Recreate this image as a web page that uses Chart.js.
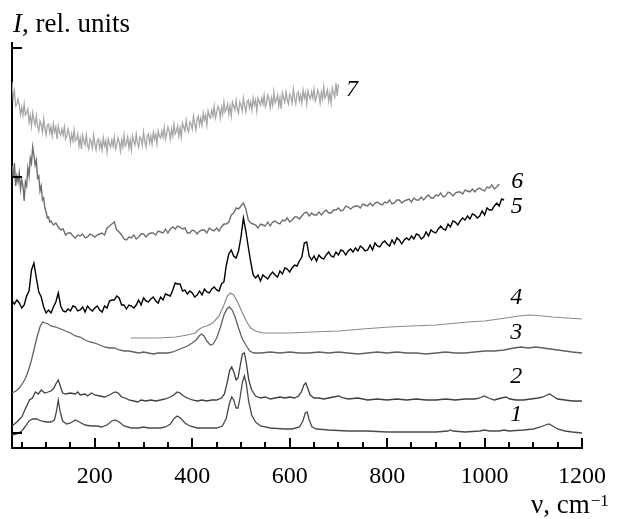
<!DOCTYPE html>
<html>
<head>
<meta charset="utf-8">
<script src="https://cdn.jsdelivr.net/npm/chart.js@4/dist/chart.umd.min.js"></script>
<style>
  html, body { margin: 0; padding: 0; background: #fff; }
  #wrap { width: 620px; height: 519px; }
</style>
</head>
<body>
<div id="wrap"><canvas id="c" width="620" height="519"></canvas></div>
<script>
// ---- data: [wavenumber (cm^-1), intensity (rel. units)] ----
const spectrum1 = [[30,13],[40,14],[50,17],[58,22],[65,27],[72,29],[80,29],[90,27],[100,26],[110,26],[117,28],[121,36],[125,48],[129,36],[134,27],[142,24],[150,25],[160,28],[168,26],[180,23],[193,22],[205,22],[214,21],[225,23],[235,27],[242,28],[250,26],[260,22],[275,20],[290,20],[300,21],[310,20],[322,20],[335,20],[345,21],[355,24],[362,29],[369,32],[376,30],[385,25],[395,22],[410,20],[430,20],[450,20],[462,22],[470,30],[476,44],[481,51],[485,48],[490,40],[494,40],[498,50],[503,66],[507,72],[511,64],[516,46],[522,33],[530,26],[540,22],[560,20],[590,19],[605,19],[620,21],[627,27],[632,35],[636,36],[640,28],[646,21],[655,19],[680,18],[720,17],[760,17],[800,16],[850,16],[900,16],[925,17],[930,18],[935,17],[960,16],[990,17],[1000,18],[1010,17],[1030,17],[1040,18],[1050,17],[1080,18],[1100,19],[1115,21],[1125,23],[1132,24],[1140,22],[1150,19],[1165,17],[1180,16],[1200,15]];

const spectrum2 = [[30,22],[40,26],[50,31],[60,42],[66,48],[72,50],[78,56],[84,54],[90,58],[97,55],[104,56],[110,57],[116,60],[121,65],[125,68],[129,62],[134,55],[140,54],[150,55],[160,54],[165,56],[170,53],[180,54],[185,52],[193,55],[200,53],[210,52],[220,51],[230,53],[237,55],[242,56],[248,55],[255,51],[262,50],[270,48],[280,47],[288,46],[295,48],[305,47],[315,48],[325,47],[335,48],[345,49],[355,51],[362,53],[369,56],[375,55],[382,52],[390,50],[400,48],[410,47],[420,48],[430,47],[440,48],[450,48],[460,50],[466,54],[472,66],[477,78],[481,81],[486,75],[490,68],[494,70],[499,84],[503,94],[507,95],[511,85],[516,68],[522,58],[530,52],[540,50],[550,51],[560,49],[570,50],[580,51],[590,50],[600,51],[610,50],[618,52],[624,56],[629,63],[633,65],[637,60],[642,53],[650,50],[660,50],[670,49],[680,50],[690,51],[700,52],[710,50],[720,49],[740,50],[760,48],[780,49],[800,48],[820,49],[840,48],[860,49],[880,48],[900,48],[920,49],[940,48],[960,49],[980,49],[990,50],[1000,52],[1008,50],[1020,48],[1035,50],[1044,51],[1052,49],[1065,48],[1080,48],[1095,49],[1110,50],[1120,51],[1128,53],[1134,54],[1140,52],[1150,49],[1165,48],[1180,47],[1200,47]];

const spectrum3 = [[30,55],[38,57],[45,60],[52,65],[58,70],[64,78],[70,88],[76,100],[82,112],[88,122],[93,126],[98,125],[104,124],[110,122],[120,121],[130,119],[140,117],[150,115],[160,112],[170,111],[180,108],[190,106],[200,105],[210,103],[220,101],[230,100],[240,100],[250,98],[260,97],[270,97],[280,96],[290,95],[300,96],[310,95],[320,94],[330,95],[340,95],[350,95],[360,96],[370,98],[380,100],[390,102],[400,105],[408,108],[414,112],[419,114],[424,112],[430,107],[437,103],[443,104],[450,110],[458,121],[465,133],[471,139],[476,141],[482,138],[488,131],[495,120],[502,110],[510,103],[518,97],[526,95],[540,95],[560,96],[580,95],[600,96],[620,95],[640,95],[660,96],[680,95],[700,96],[720,95],[740,94],[760,95],[780,96],[800,95],[820,96],[840,95],[860,95],[880,94],[900,95],[920,96],[940,95],[960,95],[980,96],[1000,97],[1020,97],[1040,98],[1060,100],[1075,101],[1090,100],[1105,101],[1120,100],[1135,99],[1150,98],[1165,97],[1180,96],[1200,95]];

const spectrum4 = [[274,110],[300,110],[330,110],[366,111],[390,113],[406,115],[415,119],[422,121],[430,122],[442,125],[455,132],[465,143],[472,152],[478,155],[485,153],[494,145],[503,135],[512,126],[520,120],[530,117],[545,115],[570,115],[600,115],[645,116],[700,117],[750,119],[805,121],[850,122],[900,123],[966,126],[1000,127],[1044,130],[1070,132],[1092,133],[1120,132],[1140,131],[1170,130],[1200,129]];

const spectrum5 = [[30,147],[35,144],[40,148],[45,145],[50,140],[55,143],[60,152],[65,157],[70,178],[75,185],[80,170],[85,156],[90,151],[95,141],[100,135],[105,138],[110,135],[115,141],[120,146],[125,155],[130,142],[135,137],[140,136],[145,139],[150,137],[155,142],[160,141],[165,137],[170,138],[175,141],[180,136],[185,142],[190,139],[195,137],[200,140],[205,142],[210,138],[215,136],[220,142],[225,140],[230,147],[235,148],[240,148],[245,152],[250,150],[255,143],[260,143],[265,139],[270,143],[275,142],[280,140],[285,143],[290,148],[295,143],[300,150],[305,147],[310,146],[315,149],[320,151],[325,147],[330,145],[335,151],[340,148],[345,154],[350,153],[355,152],[360,158],[365,165],[370,164],[375,164],[380,157],[385,158],[390,154],[395,157],[400,155],[405,151],[410,153],[415,157],[420,153],[425,159],[430,156],[435,155],[440,159],[445,161],[450,158],[455,157],[460,164],[465,166],[470,183],[475,194],[480,198],[485,192],[490,190],[495,197],[500,211],[505,230],[510,217],[515,201],[520,186],[525,173],[530,170],[535,173],[540,167],[545,173],[550,171],[555,169],[560,173],[565,176],[570,173],[575,171],[580,177],[585,174],[590,180],[595,179],[600,176],[605,180],[610,183],[615,182],[620,187],[625,191],[630,205],[635,206],[640,192],[645,188],[650,192],[655,187],[660,193],[665,190],[670,189],[675,193],[680,196],[685,192],[690,191],[695,196],[700,193],[705,198],[710,197],[715,193],[720,197],[725,199],[730,196],[735,200],[740,197],[745,202],[750,200],[755,197],[760,198],[765,203],[770,198],[775,205],[780,202],[785,201],[790,205],[795,207],[800,204],[805,202],[810,208],[815,204],[820,210],[825,208],[830,204],[835,208],[840,210],[845,208],[850,212],[855,209],[860,214],[865,213],[870,209],[875,211],[880,216],[885,212],[890,218],[895,216],[900,215],[905,219],[910,222],[915,219],[920,218],[925,224],[930,221],[935,227],[940,226],[945,223],[950,227],[955,230],[960,228],[965,232],[970,229],[975,234],[980,233],[985,230],[990,232],[995,237],[1000,233],[1005,240],[1010,238],[1015,238],[1020,242],[1025,245],[1030,242],[1035,249],[1040,248]];

const spectrum6 = [[30,283],[32.5,270],[35,285],[37.5,262],[40,272],[42.5,266],[45,275],[47.5,259],[50,268],[52.5,262],[55,247],[57.5,266],[60,262],[62.5,280],[65,272],[67.5,290],[70,285],[72.5,301],[75,293],[77.5,283],[80,288],[82.5,270],[85,272],[87.5,257],[90,262],[92.5,248],[95,250],[97.5,240],[100,236],[102.5,230],[105,231],[107.5,226],[110,227],[115,223],[120,225],[125,221],[130,218],[135,219],[140,213],[145,215],[150,215],[155,212],[160,210],[165,213],[170,212],[175,214],[180,210],[185,211],[190,214],[195,213],[200,211],[205,213],[210,214],[215,215],[220,213],[225,220],[230,222],[235,224],[240,226],[245,218],[250,216],[255,213],[260,209],[265,208],[270,211],[275,210],[280,213],[285,209],[290,211],[295,214],[300,214],[305,211],[310,214],[315,215],[320,215],[325,213],[330,217],[335,216],[340,215],[345,219],[350,215],[355,219],[360,221],[365,219],[370,222],[375,221],[380,219],[385,220],[390,215],[395,215],[400,218],[405,217],[410,214],[415,217],[420,218],[425,218],[430,215],[435,220],[440,218],[445,217],[450,220],[455,217],[460,221],[465,224],[470,224],[475,226],[480,233],[485,235],[490,240],[495,239],[500,242],[505,245],[510,239],[515,228],[520,225],[525,224],[530,223],[535,220],[540,224],[545,223],[550,222],[555,226],[560,222],[565,226],[570,227],[575,225],[580,224],[585,228],[590,227],[595,230],[600,226],[605,228],[610,231],[615,231],[620,229],[625,232],[630,235],[635,236],[640,232],[645,235],[650,233],[655,233],[660,236],[665,233],[670,236],[675,238],[680,235],[685,235],[690,238],[695,238],[700,240],[705,237],[710,238],[715,242],[720,241],[725,239],[730,241],[735,242],[740,242],[745,240],[750,244],[755,243],[760,242],[765,245],[770,242],[775,245],[780,246],[785,244],[790,243],[795,246],[800,245],[805,248],[810,244],[815,245],[820,248],[825,248],[830,245],[835,247],[840,248],[845,249],[850,246],[855,250],[860,248],[865,248],[870,251],[875,248],[880,251],[885,253],[890,250],[895,250],[900,253],[905,252],[910,255],[915,251],[920,252],[925,256],[930,255],[935,252],[940,255],[945,256],[950,256],[955,254],[960,258],[965,257],[970,256],[975,259],[980,256],[985,259],[990,260],[995,258],[1000,257],[1005,261],[1010,260],[1015,263],[1020,259],[1025,261],[1030,264]];

const spectrum7 = [[30,366],[32.5,350],[35,357],[37.5,342],[40,344],[42.5,349],[45,343],[47.5,333],[50,341],[52.5,333],[55,344],[57.5,333],[60,335],[62.5,339],[65,326],[67.5,333],[70,322],[72.5,335],[75,328],[77.5,323],[80,332],[82.5,322],[85,317],[87.5,327],[90,323],[92.5,316],[95,329],[97.5,319],[100,313],[102.5,323],[105,324],[107.5,315],[110,321],[112.5,312],[115,324],[117.5,316],[120,321],[122.5,309],[125,322],[127.5,316],[130,313],[132.5,319],[135,313],[137.5,321],[140,309],[142.5,312],[145,319],[147.5,314],[150,305],[152.5,314],[155,307],[157.5,318],[160,307],[162.5,309],[165,314],[167.5,302],[170,310],[172.5,299],[175,313],[177.5,307],[180,303],[182.5,313],[185,303],[187.5,299],[190,309],[192.5,306],[195,300],[197.5,313],[200,304],[202.5,298],[205,307],[207.5,309],[210,300],[212.5,306],[215,298],[217.5,310],[220,302],[222.5,307],[225,296],[227.5,309],[230,304],[232.5,301],[235,308],[237.5,302],[240,311],[242.5,299],[245,303],[247.5,310],[250,306],[252.5,297],[255,308],[257.5,301],[260,313],[262.5,302],[265,305],[267.5,311],[270,300],[272.5,308],[275,298],[277.5,312],[280,307],[282.5,303],[285,314],[287.5,305],[290,301],[292.5,311],[295,309],[297.5,303],[300,316],[302.5,307],[305,301],[307.5,312],[310,314],[312.5,305],[315,312],[317.5,304],[320,316],[322.5,309],[325,314],[327.5,304],[330,317],[332.5,312],[335,310],[337.5,317],[340,311],[342.5,321],[345,309],[347.5,314],[350,321],[352.5,317],[355,309],[357.5,319],[360,312],[362.5,324],[365,314],[367.5,317],[370,322],[372.5,312],[375,320],[377.5,311],[380,325],[382.5,321],[385,317],[387.5,328],[390,319],[392.5,316],[395,326],[397.5,324],[400,319],[402.5,332],[405,324],[407.5,318],[410,329],[412.5,332],[415,323],[417.5,330],[420,323],[422.5,335],[425,328],[427.5,333],[430,323],[432.5,337],[435,332],[437.5,330],[440,338],[442.5,332],[445,342],[447.5,330],[450,335],[452.5,342],[455,339],[457.5,330],[460,341],[462.5,334],[465,346],[467.5,336],[470,339],[472.5,344],[475,334],[477.5,342],[480,332],[482.5,346],[485,342],[487.5,338],[490,348],[492.5,339],[495,335],[497.5,346],[500,343],[502.5,337],[505,350],[507.5,342],[510,336],[512.5,346],[515,348],[517.5,340],[520,346],[522.5,338],[525,350],[527.5,343],[530,348],[532.5,337],[535,350],[537.5,346],[540,343],[542.5,350],[545,344],[547.5,353],[550,341],[552.5,345],[555,353],[557.5,349],[560,340],[562.5,350],[565,343],[567.5,356],[570,345],[572.5,348],[575,353],[577.5,342],[580,350],[582.5,339],[585,355],[587.5,350],[590,346],[592.5,356],[595,348],[597.5,344],[600,354],[602.5,351],[605,345],[607.5,359],[610,350],[612.5,344],[615,354],[617.5,356],[620,347],[622.5,353],[625,345],[627.5,358],[630,350],[632.5,355],[635,344],[637.5,357],[640,352],[642.5,349],[645,356],[647.5,350],[650,359],[652.5,347],[655,351],[657.5,358],[660,354],[662.5,345],[665,356],[667.5,349],[670,361],[672.5,350],[675,353],[677.5,358],[680,347],[682.5,355],[685,345],[687.5,360],[690,355],[692.5,351],[695,365],[697.5,352],[700,364]];

// curve number labels and their positions (wavenumber, intensity)
const curveNames = ['1','2','3','4','5','6','7'];
const curveLabelNu = [1065,1065,1065,1065,1066,1067,728];
const curveLabelInt = [33,71,115,150,241,266,358];

// axis ticks
const xTickValues = [50,100,150,200,250,300,350,400,450,500,550,600,650,700,750,800,850,900,950,1000,1050,1100,1150,1200];
const xLabelValues = [200,400,600,800,1000,1200];
const yTickValues = [15,271,400];

const toPts = arr => arr.map(p => ({x: p[0], y: p[1]}));

const serif = '"Liberation Serif", "Times New Roman", serif';

const decor = {
  id: 'decor',
  afterDraw(chart) {
    const {ctx, chartArea: a, scales: {x, y}} = chart;
    ctx.save();
    ctx.strokeStyle = '#000';
    ctx.lineWidth = 2;
    xTickValues.forEach(v => {
      const px = Math.round(x.getPixelForValue(v));
      const len = xLabelValues.includes(v) ? 10 : 6;
      ctx.beginPath(); ctx.moveTo(px, a.bottom); ctx.lineTo(px, a.bottom - len); ctx.stroke();
    });
    yTickValues.forEach(v => {
      const py = Math.round(y.getPixelForValue(v));
      ctx.beginPath(); ctx.moveTo(a.left, py); ctx.lineTo(a.left + 10, py); ctx.stroke();
    });
    // curve labels
    ctx.fillStyle = '#000';
    ctx.font = 'italic 24px ' + serif;
    ctx.textAlign = 'center';
    ctx.textBaseline = 'middle';
    curveNames.forEach((n, i) => {
      ctx.fillText(n, x.getPixelForValue(curveLabelNu[i]), y.getPixelForValue(curveLabelInt[i]));
    });
    // y axis title
    ctx.textAlign = 'left';
    ctx.textBaseline = 'alphabetic';
    ctx.font = 'italic 27px ' + serif;
    ctx.fillText('I', a.left + 1, 32);
    let w = ctx.measureText('I').width;
    ctx.font = '27px ' + serif;
    ctx.fillText(', rel. units', a.left + 1 + w, 32);
    // x axis title
    ctx.font = '27px ' + serif;
    const t = 'ν, cm';
    ctx.fillText(t, 531, 513);
    w = ctx.measureText(t).width;
    ctx.font = '17px ' + serif;
    ctx.fillText('−1', 531 + w + 1, 506);
    ctx.restore();
  }
};

const mk = (data, color, width) => ({
  data: toPts(data), borderColor: color, borderWidth: width,
  pointRadius: 0, fill: false, tension: 0
});

new Chart(document.getElementById('c'), {
  type: 'line',
  data: {
    datasets: [
      mk(spectrum7, '#a6a6a6', 1.3),
      mk(spectrum6, '#6e6e6e', 1.4),
      mk(spectrum5, '#000000', 1.4),
      mk(spectrum4, '#8a8a8a', 1.2),
      mk(spectrum3, '#606060', 1.3),
      mk(spectrum2, '#404040', 1.3),
      mk(spectrum1, '#4a4a4a', 1.3)
    ]
  },
  options: {
    responsive: false,
    animation: false,
    devicePixelRatio: 1,
    layout: { padding: { top: 43, right: 28, left: 0, bottom: 0 } },
    plugins: { legend: { display: false }, tooltip: { enabled: false } },
    scales: {
      x: {
        type: 'linear', min: 30, max: 1200,
        afterBuildTicks: s => { s.ticks = xTickValues.map(v => ({value: v})); },
        afterFit: s => { s.height = 71; },
        grid: { display: false, drawTicks: false },
        border: { display: true, color: '#000', width: 2 },
        ticks: {
          autoSkip: false, maxRotation: 0, padding: 14, color: '#000',
          font: { family: serif, size: 24 },
          callback: v => xLabelValues.includes(v) ? String(v) : ''
        }
      },
      y: {
        type: 'linear', min: 0, max: 405,
        afterFit: s => { s.width = 12; },
        grid: { display: false, drawTicks: false },
        border: { display: true, color: '#000', width: 2 },
        ticks: { display: false }
      }
    }
  },
  plugins: [decor]
});
</script>
</body>
</html>
